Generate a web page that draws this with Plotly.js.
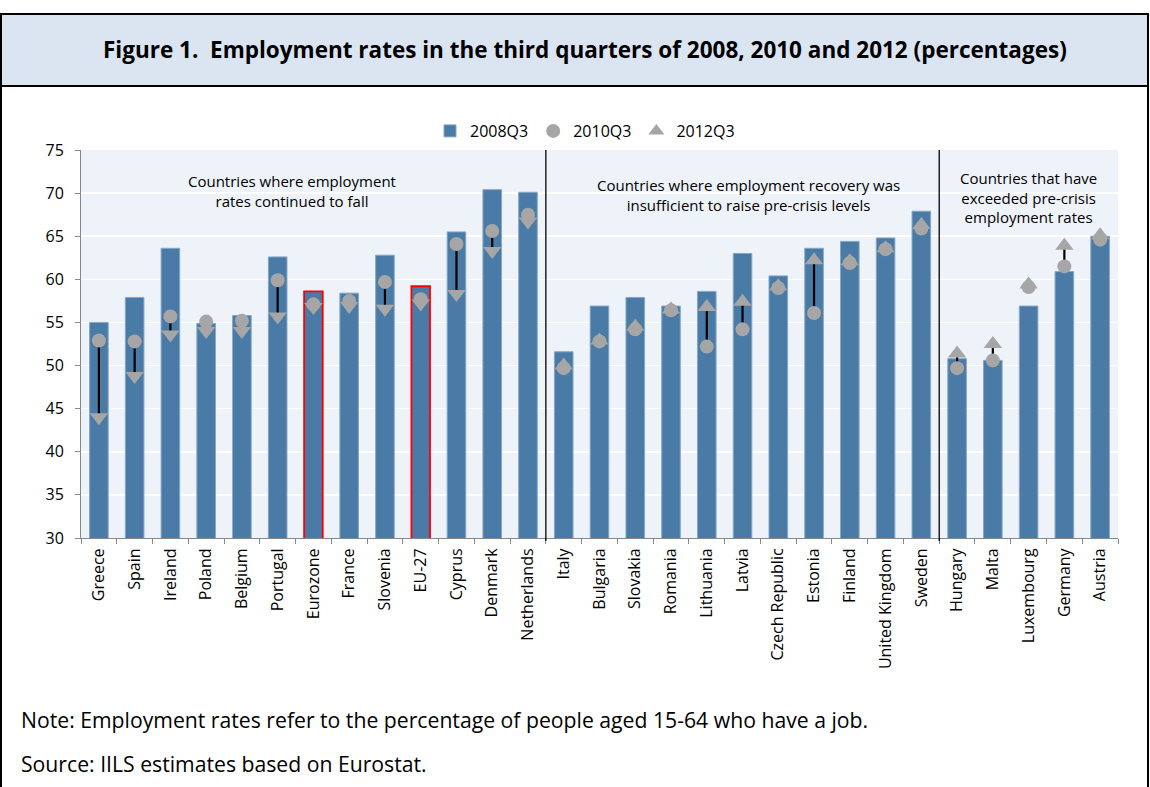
<!DOCTYPE html>
<html>
<head>
<meta charset="utf-8">
<script src="https://cdn.plot.ly/plotly-3.0.1.min.js"></script>
<style>html,body{margin:0;padding:0;background:#fff;}#chart{width:1150px;height:787px;}</style>
</head>
<body>
<div id="chart"></div>
<script>
const countries = ["Greece","Spain","Ireland","Poland","Belgium","Portugal","Eurozone","France","Slovenia","EU-27","Cyprus","Denmark","Netherlands",
  "Italy","Bulgaria","Slovakia","Romania","Lithuania","Latvia","Czech Republic","Estonia","Finland","United Kingdom","Sweden",
  "Hungary","Malta","Luxembourg","Germany","Austria"];
const rate2008 = [55.0,57.9,63.6,54.9,55.8,62.6,58.6,58.4,62.8,59.2,65.5,70.4,70.1,
  51.6,56.9,57.9,56.9,58.6,63.0,60.4,63.6,64.4,64.8,67.9,
  50.8,50.6,56.9,60.9,65.0];
const rate2010 = [52.9,52.8,55.7,55.1,55.2,59.9,57.1,57.5,59.7,57.7,64.1,65.6,67.5,
  49.7,52.8,54.2,56.4,52.2,54.2,59.0,56.1,61.9,63.5,65.9,
  49.7,50.6,59.1,61.5,64.6];
const rate2012 = [44.0,48.8,53.6,54.0,54.0,55.7,56.8,56.9,56.6,57.2,58.3,63.3,66.7,
  50.0,52.9,54.5,56.5,56.8,57.4,59.2,62.2,62.1,63.6,66.3,
  51.4,52.5,59.4,63.9,65.1];
const groupSizes = [13, 11, 5];
const groupLabels = ["Countries where employment<br>rates continued to fall",
  "Countries where employment recovery was<br>insufficient to raise pre-crisis levels",
  "Countries that have<br>exceeded pre-crisis<br>employment rates"];
const highlighted = ["Eurozone","EU-27"];

// geometry (pixels)
const W = 1150, H = 787, ML = 81, MR = 32, MT = 150, MB = 249;
const PW = W - ML - MR, PH = H - MT - MB;
const px = x => (x - ML) / PW;
const py = y => (H - MB - y) / PH;

const FONT = "'Open Sans', Lato, sans-serif";
const BAR = "#4a7ba6", GREY = "#a6a6a6";

const lineX = [], lineY = [];
countries.forEach((c, i) => { lineX.push(c, c, null); lineY.push(rate2010[i], rate2012[i], null); });

const triSymbols = [];
groupSizes.forEach((n, g) => { for (let k = 0; k < n; k++) triSymbols.push(g === 0 ? "triangle-down" : "triangle-up"); });

const traces = [
  { type: "bar", name: "2008Q3", x: countries, y: rate2008, width: 0.52,
    marker: { color: BAR, line: { color: countries.map(c => highlighted.includes(c) ? "#ff0000" : "#86a7c8"),
      width: countries.map(c => highlighted.includes(c) ? 1.8 : 1) } } },
  { type: "scatter", mode: "lines", x: lineX, y: lineY, showlegend: false, hoverinfo: "skip",
    line: { color: "#000", width: 2.2 } },
  { type: "scatter", mode: "markers", name: "2012Q3_hidden", x: countries, y: rate2012, showlegend: false,
    marker: { symbol: triSymbols, size: 16, color: GREY } },
  { type: "scatter", mode: "markers", name: "2010Q3", x: countries, y: rate2010,
    marker: { symbol: "circle", size: 14, color: GREY } },
  { type: "scatter", mode: "markers", name: "2012Q3", x: [null], y: [null],
    marker: { symbol: "triangle-up", size: 14, color: GREY } }
];

// separators between groups
let cum = 0; const seps = [];
groupSizes.slice(0, -1).forEach(n => { cum += n; seps.push(cum - 0.5); });

const shapes = [
  { type: "rect", xref: "paper", yref: "paper", x0: px(1), x1: px(1148), y0: py(86), y1: py(14),
    fillcolor: "#dbe5f1", line: { color: "#000", width: 2 }, layer: "below" },
  { type: "line", xref: "paper", yref: "paper", x0: px(1), x1: px(1), y0: py(86), y1: py(790), line: { color: "#000", width: 2 } },
  { type: "line", xref: "paper", yref: "paper", x0: px(1148), x1: px(1148), y0: py(86), y1: py(790), line: { color: "#000", width: 2 } }
];
seps.forEach(s => shapes.push({ type: "line", xref: "x", yref: "paper", x0: s, x1: s, y0: py(541), y1: 1,
  line: { color: "#000", width: 1.3 } }));

// group label positions
const groupCenters = [292, 748, 1028];
const groupY = [190.5, 194.5, 197];
const annotations = groupLabels.map((t, i) => ({
  text: t, xref: "paper", yref: "paper", x: px(groupCenters[i]), y: py(groupY[i]), xanchor: "center", yanchor: "middle",
  showarrow: false, align: "center", font: { family: FONT, size: 15, color: "#000" } }));
annotations.push(
  { text: "<b>Figure 1.  Employment rates in the third quarters of 2008, 2010 and 2012 (percentages)</b>", xref: "paper", yref: "paper",
    x: px(585), y: py(49), xanchor: "center", yanchor: "middle", showarrow: false, font: { family: FONT, size: 22.5, color: "#000" } },
  { text: "Note: Employment rates refer to the percentage of people aged 15-64 who have a job.", xref: "paper", yref: "paper",
    x: px(19), y: py(719), xanchor: "left", yanchor: "middle", showarrow: false, font: { family: FONT, size: 21.2, color: "#000" } },
  { text: "Source: IILS estimates based on Eurostat.", xref: "paper", yref: "paper",
    x: px(19), y: py(763), xanchor: "left", yanchor: "middle", showarrow: false, font: { family: FONT, size: 21.2, color: "#000" } }
);

const layout = {
  width: W, height: H, margin: { l: ML, r: MR, t: MT, b: MB, pad: 0 },
  paper_bgcolor: "#fff", plot_bgcolor: "#eef2f9",
  font: { family: FONT, color: "#000" },
  showlegend: true,
  legend: { orientation: "h", x: px(585), xanchor: "center", y: py(131), yanchor: "middle",
    font: { family: FONT, size: 16 }, bgcolor: "rgba(0,0,0,0)", itemwidth: 30, traceorder: "normal" },
  xaxis: { type: "category", tickangle: -90, tickfont: { family: FONT, size: 16, color: "#000" }, showgrid: false,
    showline: true, linecolor: "#888", linewidth: 1, ticks: "outside", tickson: "boundaries", ticklen: 5, tickcolor: "#888",
    range: [-0.5, countries.length - 0.5], fixedrange: true, ticklabelstandoff: 3 },
  yaxis: { range: [30, 75], tickvals: [30,35,40,45,50,55,60,65,70,75], tickfont: { family: FONT, size: 16, color: "#000" },
    showgrid: true, gridcolor: "#ffffff", gridwidth: 1.5, showline: true, linecolor: "#888", linewidth: 1,
    ticks: "outside", ticklen: 5, tickcolor: "#888", zeroline: false, fixedrange: true, ticklabelstandoff: 8 },
  shapes: shapes, annotations: annotations, bargap: 0.48
};

Plotly.newPlot("chart", traces, layout, { displayModeBar: false, staticPlot: true });
</script>
</body>
</html>
